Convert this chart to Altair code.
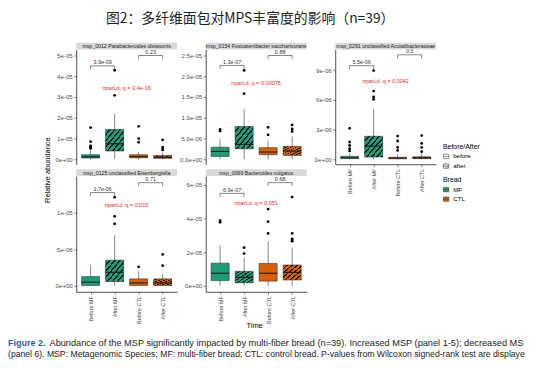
import json
import altair as alt
import pandas as pd

TITLE = "图2：多纤维面包对MPS丰富度的影响（n=39）"
CAPTION_LEAD = "Figure 2."
CAPTION_1 = "Abundance of the MSP significantly impacted by multi-fiber bread (n=39). Increased MSP (panel 1-5); decreased MSP"
CAPTION_2 = "(panel 6). MSP: Metagenomic Species; MF: multi-fiber bread; CTL: control bread. P-values from Wilcoxon signed-rank test are displayed"
Y_TITLE = "Relative abundance"
X_TITLE = "Time"

GROUPS = ["Before MF", "After MF", "Before CTL", "After CTL"]
BREAD = ["MF", "MF", "CTL", "CTL"]
TIME = ["before", "after", "before", "after"]
BREAD_LEVELS = ["MF", "CTL"]
TIME_LEVELS = ["before", "after"]
BREAD_COLORS = ["#1b9e77", "#d95f02"]

STRIPS = [
    "msp_0012 Parabacteroides distasonis",
    "msp_0154 Fusicatenibacter saccharivorans",
    "msp_0291 unclassified Acutalibacteraceae",
    "msp_0125 unclassified Eisenbergiella",
    "msp_0069 Bacteroides vulgatus",
]

# box statistics, relative abundance in units of 1e-6
P1_LO = [0, 0, 0, 0]
P1_Q1 = [0.6, 4.0, 0.7, 0.5]
P1_MED = [1.2, 7.5, 1.3, 1.0]
P1_Q3 = [2.2, 14.3, 2.2, 1.8]
P1_HI = [4.6, 21.8, 3.6, 3.2]
P1_OUT = [[5.3, 5.7, 6.1, 6.5, 8.5, 15.3], [30.8, 42.9], [8.2, 10.0, 15.9], [4.5, 5.0, 5.9, 9.4]]
P1_BR_Y = [45.0, 50.0]
P1_BR_P = ["3.9e-09", "0.23"]
P1_Q_Y = 34.4
P1_Q_TEXT = "nparLd, q = 3.4e-16"

P2_LO = [0, 0, 0, 0]
P2_Q1 = [0.7, 2.55, 1.1, 0.95]
P2_MED = [1.9, 3.6, 1.75, 2.0]
P2_Q3 = [2.9, 7.9, 2.8, 3.1]
P2_HI = [4.9, 12.1, 4.5, 5.5]
P2_OUT = [[6.8, 7.2], [15.8, 21.4], [5.9, 7.7], [6.7, 7.3, 8.3]]
P2_BR_Y = [22.6, 25.0]
P2_BR_P = ["1.3e-07", "0.88"]
P2_Q_Y = 18.3
P2_Q_TEXT = "nparLd, q = 0.00075"

P3_LO = [0, 0, 0, 0]
P3_Q1 = [0.07, 0.23, 0.05, 0.07]
P3_MED = [0.15, 1.33, 0.12, 0.15]
P3_Q3 = [0.3, 2.33, 0.2, 0.25]
P3_HI = [0.6, 5.07, 0.5, 0.6]
P3_OUT = [[0.85, 1.07, 1.4, 1.75, 3.13], [6.07, 6.3, 6.9, 8.97], [0.9, 1.2, 1.85, 2.35], [0.77, 1.2, 1.6, 2.4]]
P3_BR_Y = [9.47, 10.57]
P3_BR_P = ["5.5e-06", "0.5"]
P3_Q_Y = 7.9
P3_Q_TEXT = "nparLd, q = 0.0042"

P4_LO = [0, 0, 0, 0]
P4_Q1 = [0.05, 0.58, 0.05, 0.05]
P4_MED = [0.5, 1.85, 0.4, 0.4]
P4_Q3 = [1.26, 3.51, 0.95, 0.95]
P4_HI = [2.84, 6.9, 2.0, 1.6]
P4_OUT = [[], [8.47, 9.5, 12.1], [2.6], [2.75, 4.3]]
P4_BR_Y = [12.75, 14.1]
P4_BR_P = ["1.7e-06", "0.71"]
P4_Q_Y = 11.0
P4_Q_TEXT = "nparLd, q = 0.015"

P5_LO = [0, 0, 0, 0]
P5_Q1 = [3.1, 1.8, 2.8, 3.5]
P5_MED = [7.5, 5.1, 7.5, 8.0]
P5_Q3 = [13.5, 8.6, 13.3, 12.4]
P5_HI = [24.1, 16.5, 26.6, 22.7]
P5_OUT = [[37.8, 38.8], [19.2, 22.7], [31.2, 38.2, 45.7], [26.6, 27.4, 28.0, 31.2, 52.8]]
P5_BR_Y = [55.0, 61.4]
P5_BR_P = ["6.9e-07", "0.68"]
P5_Q_Y = 49.2
P5_Q_TEXT = "nparLd, q = 0.051"

# axis limits and ticks (units of 1e-6)
Y_DOMAINS = [[-2.38, 52.86], [-1.19, 26.43], [-0.5, 11.1], [-0.81, 15.0], [-3.53, 65.3]]
Y_TICKS = [[0, 10, 20, 30, 40, 50], [0, 5, 10, 15, 20, 25], [0, 3, 6, 9], [0, 5, 10], [0, 20, 40, 60]]
Y_FMT = [".0e", ".1e", ".0e", ".0e", ".0e"]

UNIT = 1e-6
FONT = "Liberation Sans"
PW = 102
HATCH_N = 7


def hatch_gradient():
    stops = []
    clear = "rgba(0,0,0,0)"
    dark = "#1a1a1a"
    for k in range(HATCH_N):
        a = k / HATCH_N
        b = (k + 0.66) / HATCH_N
        c = (k + 1) / HATCH_N
        stops += [alt.GradientStop(color=clear, offset=a), alt.GradientStop(color=clear, offset=b),
                  alt.GradientStop(color=dark, offset=b), alt.GradientStop(color=dark, offset=c)]
    return alt.LinearGradient(gradient="linear", stops=stops, x1=0, y1=0, x2=1, y2=1)


HATCH = hatch_gradient()

BEFORE_PATH = "M-1,-0.8L1,-0.8L1,0.8L-1,0.8Z M-1,0L1,0 M0,-0.8L0,-1 M0,0.8L0,1"
AFTER_PATH = ("M-1,-0.8L1,-0.8L1,0.8L-1,0.8Z M-1,0L1,0 M0,-0.8L0,-1 M0,0.8L0,1 "
              "M-1,0.2L-0.2,-0.8 M-0.6,0.8L1,-0.6 M0.4,0.8L1,0.1")
BREAD_PATH = "M-1,-0.8L1,-0.8L1,0.8L-1,0.8Z M-1,0L1,0 M0,-0.8L0,-1 M0,0.8L0,1"

legend_common = dict(orient="none", legendX=440, titleFontSize=7, titleFontWeight="normal",
                     titleColor="black", labelFontSize=6.3, labelColor="black", symbolSize=30,
                     rowPadding=1.7, titlePadding=3.5, labelOffset=4, padding=0,
                     symbolStrokeColor="#333", symbolStrokeWidth=0.5, symbolOpacity=1,
                     titleFont=FONT, labelFont=FONT)
bread_legend = alt.Legend(title="Bread", legendY=168, symbolType=BREAD_PATH, **legend_common)
ba_legend = alt.Legend(title="Before/After", legendY=134.5, **legend_common)

X_LABEL_EXPR = json.dumps(GROUPS) + "[datum.value - 1]"


def panel(k, lo, q1, med, q3, hi, outs, br_y, br_p, q_y, q_text, xmode, h, with_shape=False):
    box = pd.DataFrame({
        "group": GROUPS, "bread": BREAD, "time": TIME, "pos": [1, 2, 3, 4],
        "lo": [v * UNIT for v in lo], "q1": [v * UNIT for v in q1], "med": [v * UNIT for v in med],
        "q3": [v * UNIT for v in q3], "hi": [v * UNIT for v in hi],
    })
    box["left"] = box["pos"] - 0.375
    box["right"] = box["pos"] + 0.375
    orow = []
    for i, lst in enumerate(outs):
        for v in lst:
            orow.append({"pos": i + 1, "val": v * UNIT})
    out = pd.DataFrame(orow)
    br = pd.DataFrame({"xa": [1, 3], "xb": [2, 4], "xm": [1.5, 3.5],
                       "y": [v * UNIT for v in br_y], "label": br_p})
    qd = pd.DataFrame({"x": [2.5], "y": [q_y * UNIT], "t": [q_text]})
    strip = pd.DataFrame({"title": [STRIPS[k]]})

    xs = alt.Scale(domain=[0.4, 4.6], nice=False, zero=False)
    ys = alt.Scale(domain=[v * UNIT for v in Y_DOMAINS[k]], nice=False, zero=False)
    if xmode == "none":
        xax = None
    else:
        xax = alt.Axis(values=[1, 2, 3, 4], labelExpr=X_LABEL_EXPR, labelAngle=270, labelFontSize=5.5,
                       labelColor="#4d4d4d", tickSize=2.5, tickColor="#333", tickWidth=0.6,
                       domainColor="black", domainWidth=0.7, grid=False, labelPadding=1.5,
                       labelFont=FONT,
                       title=X_TITLE if xmode == "time" else None,
                       titleFontSize=7.5, titleFontWeight="normal", titleColor="black", titleFont=FONT,
                       titleX=49, titleY=34, titleBaseline="middle")
    fmt = Y_FMT[k]
    yax = alt.Axis(values=[v * UNIT for v in Y_TICKS[k]],
                   labelExpr=f"replace(replace(format(datum.value, '{fmt}'), 'e-', 'e-0'), 'e+', 'e+0')",
                   labelFontSize=6.2, labelColor="#4d4d4d", tickSize=2.5, tickColor="#333", tickWidth=0.6,
                   domainColor="black", domainWidth=0.7, grid=False, title=None, labelPadding=1.5,
                   labelFont=FONT)

    def X(f):
        return alt.X(f, type="quantitative", scale=xs, axis=xax)

    def Y(f):
        return alt.Y(f, type="quantitative", scale=ys, axis=yax)

    layers = []
    layers.append(alt.Chart(box).mark_rule(color="#333", strokeWidth=0.6).encode(
        x=X("pos"), y=Y("lo"), y2=alt.Y2("hi")))
    layers.append(alt.Chart(box).mark_rect(stroke="#333", strokeWidth=0.6).encode(
        x=X("left"), x2=alt.X2("right"), y=Y("q1"), y2=alt.Y2("q3"),
        fill=alt.Fill("bread:N", scale=alt.Scale(domain=BREAD_LEVELS, range=BREAD_COLORS),
                      legend=bread_legend)))
    layers.append(alt.Chart(box).transform_filter(alt.datum.time == "after").mark_rect(
        fill=HATCH, strokeWidth=0).encode(
        x=X("left"), x2=alt.X2("right"), y=Y("q1"), y2=alt.Y2("q3")))
    layers.append(alt.Chart(box).mark_rule(color="#1a1a1a", strokeWidth=1.1).encode(
        x=X("left"), x2=alt.X2("right"), y=Y("med")))
    if len(out):
        layers.append(alt.Chart(out).mark_circle(size=8, color="black", opacity=1).encode(
            x=X("pos"), y=Y("val")))
    layers.append(alt.Chart(br).mark_rule(color="#333", strokeWidth=0.6).encode(
        x=X("xa"), x2=alt.X2("xb"), y=Y("y")))
    layers.append(alt.Chart(br).mark_rule(color="#333", strokeWidth=0.6, y2Offset=3.5).encode(
        x=X("xa"), y=Y("y"), y2=alt.Y2("y")))
    layers.append(alt.Chart(br).mark_rule(color="#333", strokeWidth=0.6, y2Offset=3.5).encode(
        x=X("xb"), y=Y("y"), y2=alt.Y2("y")))
    layers.append(alt.Chart(br).mark_text(fontSize=5.5, baseline="bottom", dy=-0.8, color="#333",
                                          font=FONT).encode(
        x=X("xm"), y=Y("y"), text="label:N"))
    layers.append(alt.Chart(qd).mark_text(fontSize=5.6, color="#f02828", baseline="middle",
                                          font=FONT).encode(
        x=X("x"), y=Y("y"), text="t:N"))
    layers.append(alt.Chart(strip).mark_rect(fill="#d9d9d9").encode(
        x=alt.value(0), x2=alt.value(PW), y=alt.value(-7), y2=alt.value(0)))
    layers.append(alt.Chart(strip).mark_text(fontSize=5.3, color="#1a1a1a", baseline="middle",
                                             font=FONT).encode(
        x=alt.value(PW / 2), y=alt.value(-3.5), text="title:N"))
    if with_shape:
        sd = pd.DataFrame({"time": TIME_LEVELS})
        layers.append(alt.Chart(sd).mark_point(filled=False, color="#333", strokeWidth=0.5,
                                               size=30, opacity=1, clip=True).encode(
            x=alt.value(-60), y=alt.value(-60),
            shape=alt.Shape("time:N", scale=alt.Scale(domain=TIME_LEVELS, range=[BEFORE_PATH, AFTER_PATH]),
                            legend=ba_legend)))
    return alt.layer(*layers).properties(width=PW, height=h)


p1 = panel(0, P1_LO, P1_Q1, P1_MED, P1_Q3, P1_HI, P1_OUT, P1_BR_Y, P1_BR_P, P1_Q_Y, P1_Q_TEXT, "none", 116)
p2 = panel(1, P2_LO, P2_Q1, P2_MED, P2_Q3, P2_HI, P2_OUT, P2_BR_Y, P2_BR_P, P2_Q_Y, P2_Q_TEXT, "none", 116)
p3 = panel(2, P3_LO, P3_Q1, P3_MED, P3_Q3, P3_HI, P3_OUT, P3_BR_Y, P3_BR_P, P3_Q_Y, P3_Q_TEXT, "labels", 116,
           with_shape=True)
p4 = panel(3, P4_LO, P4_Q1, P4_MED, P4_Q3, P4_HI, P4_OUT, P4_BR_Y, P4_BR_P, P4_Q_Y, P4_Q_TEXT, "labels", 117)
p5 = panel(4, P5_LO, P5_Q1, P5_MED, P5_Q3, P5_HI, P5_OUT, P5_BR_Y, P5_BR_P, P5_Q_Y, P5_Q_TEXT, "time", 117)

W0 = 40


def blank(w=1, h=1):
    return alt.Chart(pd.DataFrame({"a": [0]})).mark_rect(opacity=0).encode(
        x=alt.value(0), y=alt.value(0)).properties(width=w, height=h)


ylab = alt.Chart(pd.DataFrame({"t": [Y_TITLE]})).mark_text(
    angle=270, fontSize=7.5, color="black", baseline="middle", align="center", font=FONT).encode(
    text="t:N", x=alt.value(40), y=alt.value(122)).properties(width=W0, height=116)

title = alt.Chart(pd.DataFrame({"t": [TITLE]})).mark_text(
    font="Noto Sans CJK SC", fontSize=14, color="#222", baseline="middle", align="center").encode(
    text="t:N", x=alt.value(245), y=alt.value(9.5)).properties(width=W0, height=28)

cap = pd.DataFrame({"lead": [CAPTION_LEAD], "l1": [CAPTION_1], "l2": [CAPTION_2]})
caption = alt.layer(
    alt.Chart(cap).mark_text(font=FONT, fontSize=9.1, fontWeight="bold", color="#1f5fa6",
                             align="left", baseline="middle").encode(
        text="lead:N", x=alt.value(0), y=alt.value(40)),
    alt.Chart(cap).mark_text(font=FONT, fontSize=9.3, color="#222", align="left", baseline="middle",
                             limit=486, ellipsis=" ").encode(
        text="l1:N", x=alt.value(42), y=alt.value(40)),
    alt.Chart(cap).mark_text(font=FONT, fontSize=8.75, color="#222", align="left", baseline="middle",
                             limit=527, ellipsis=" ").encode(
        text="l2:N", x=alt.value(0), y=alt.value(51)),
).properties(width=W0, height=56)

cells = [
    title, blank(), blank(), blank(),
    ylab, p1, p2, p3,
    blank(W0), p4, p5, blank(),
    caption, blank(), blank(), blank(),
]
chart = alt.concat(*cells, columns=4, bounds="flush", align="each",
                   spacing=alt.RowColnumber(row=12, column=29)).properties(padding=0)
chart = chart.configure(font=FONT).configure_view(stroke=None)

chart.save("out.html", embed_options={"renderer": "svg", "actions": False})
